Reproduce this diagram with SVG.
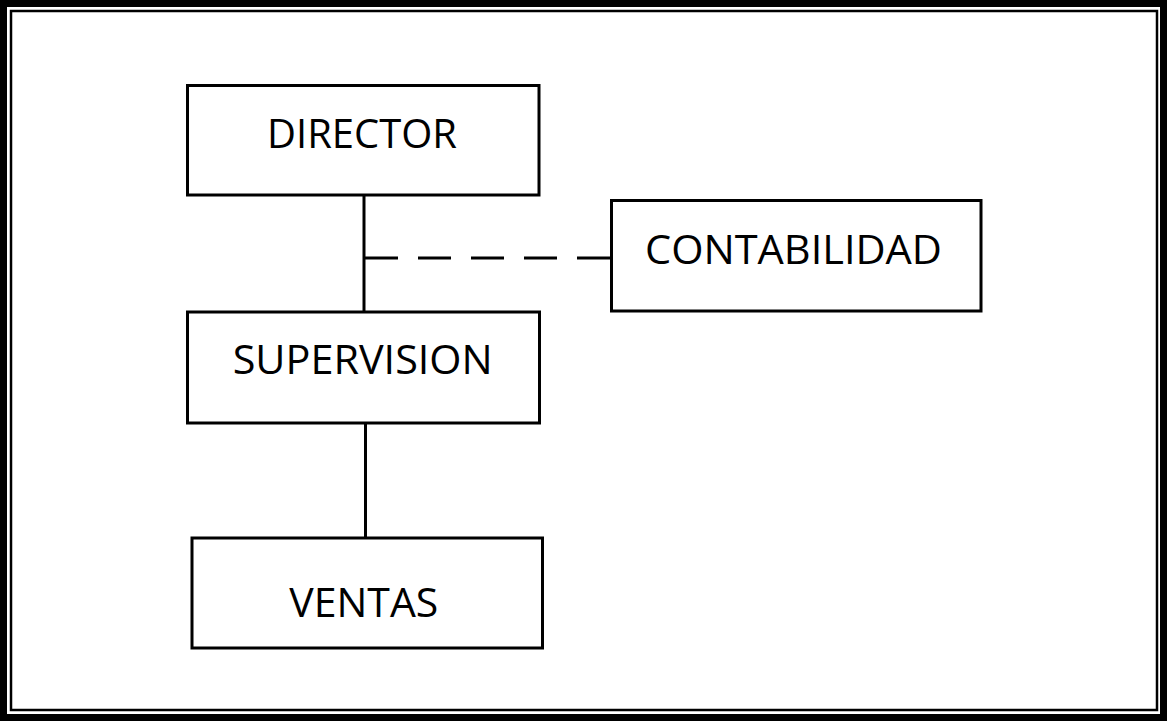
<svg xmlns="http://www.w3.org/2000/svg" width="1167" height="721" viewBox="0 0 1167 721">
<style>
.box{fill:#fff;stroke:#000;stroke-width:3}
.lbl{font-family:"Open Sans","Liberation Sans",sans-serif;font-size:40px;fill:#000;text-anchor:middle}
.ln{stroke:#000;stroke-width:3;fill:none}
.dash{stroke-dasharray:33 20}
</style>
<rect width="1167" height="721" fill="#fff"/>
<g id="frame">
<rect x="3.5" y="3.5" width="1160" height="714" fill="none" stroke="#000" stroke-width="7"/>
<rect x="11" y="11" width="1146" height="699" fill="none" stroke="#000" stroke-width="2.5"/>
</g>
<g id="connectors">
<line class="ln" x1="364" y1="195" x2="364" y2="312"/>
<line class="ln dash" x1="365" y1="258" x2="611" y2="258"/>
<line class="ln" x1="365.5" y1="423" x2="365.5" y2="538"/>
</g>
<g id="director">
<rect class="box" x="187.5" y="85.5" width="351.5" height="109.5"/>
<text class="lbl" x="362" y="148" textLength="190" lengthAdjust="spacingAndGlyphs">DIRECTOR</text>
</g>
<g id="contabilidad">
<rect class="box" x="611.5" y="200.5" width="369.5" height="110.5"/>
<text class="lbl" x="793.5" y="263.5" textLength="297" lengthAdjust="spacingAndGlyphs">CONTABILIDAD</text>
</g>
<g id="supervision">
<rect class="box" x="187.5" y="312" width="352" height="111"/>
<text class="lbl" x="362.7" y="373.5" textLength="260" lengthAdjust="spacingAndGlyphs">SUPERVISION</text>
</g>
<g id="ventas">
<rect class="box" x="192" y="538" width="350.5" height="110"/>
<text class="lbl" x="363.8" y="617" textLength="149" lengthAdjust="spacingAndGlyphs">VENTAS</text>
</g>
</svg>
